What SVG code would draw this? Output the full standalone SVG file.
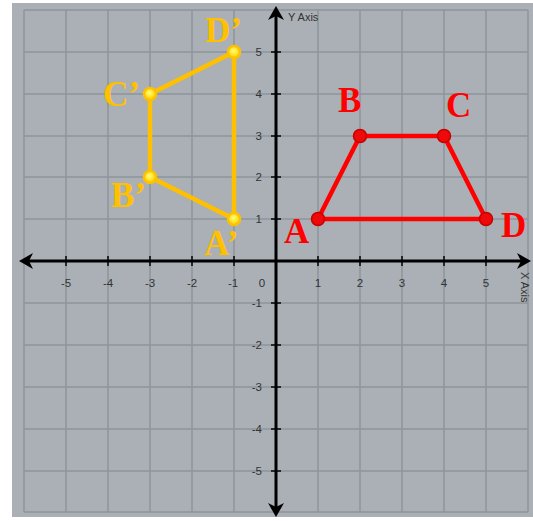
<svg xmlns="http://www.w3.org/2000/svg" width="533" height="521" viewBox="0 0 533 521">
<defs>
<style>
.grid{stroke:#8e959b;stroke-width:1.5;fill:none}
.axis{stroke:#000;stroke-width:3;fill:none}
.tick{stroke:#000;stroke-width:1.5}
.num{font-family:"Liberation Sans","DejaVu Sans",sans-serif;font-size:11.5px;fill:#333}
.ttl{font-family:"Liberation Sans","DejaVu Sans",sans-serif;font-size:11px;fill:#333}
.red{stroke:#ff0000;stroke-width:4.5;fill:none;stroke-linejoin:round}
.yel{stroke:#ffc000;stroke-width:4.5;fill:none;stroke-linejoin:round}
.rpt{fill:#ee0a0a;stroke:#c80000;stroke-width:1.5}
.ypt{fill:url(#yg);stroke:#ffc000;stroke-width:2.5}
.rl{font-family:"Liberation Serif","Times New Roman",serif;font-weight:bold;font-size:35px;fill:#ff0000}
.yl{font-family:"Liberation Serif","Times New Roman",serif;font-weight:bold;font-size:35px;fill:#ffc000}
</style>
<radialGradient id="yg" cx="0.45" cy="0.4" r="0.6">
<stop offset="0" stop-color="#ffff70"/>
<stop offset="1" stop-color="#ffd000"/>
</radialGradient>
</defs>
<rect x="0" y="0" width="533" height="521" fill="#ffffff"/>
<rect x="12" y="3" width="521" height="514" fill="#aab0b5"/>
<g id="grid" class="grid">
<path d="M24 10V512M66 10V512M108 10V512M150 10V512M192 10V512M234 10V512M318 10V512M360 10V512M402 10V512M444 10V512M486 10V512M528 10V512"/>
<path d="M24 10H528M24 52H528M24 94H528M24 136H528M24 177H528M24 219H528M24 303H528M24 345H528M24 387H528M24 429H528M24 471H528M24 512H528"/>
</g>
<g id="axes">
<line class="axis" x1="26" y1="261" x2="522" y2="261"/>
<line class="axis" x1="276" y1="14" x2="276" y2="508"/>
<path d="M19 261L33 253L29 261L33 269Z" fill="#000"/>
<path d="M531 261L517 253L521 261L517 269Z" fill="#000"/>
<path d="M276 6L268 20L276 16L284 20Z" fill="#000"/>
<path d="M276 517L268 503L276 507L284 503Z" fill="#000"/>
<path class="tick" d="M66 256V266M108 256V266M150 256V266M192 256V266M234 256V266M318 256V266M360 256V266M402 256V266M444 256V266M486 256V266"/>
<path class="tick" d="M271 52H281M271 94H281M271 136H281M271 177H281M271 219H281M271 303H281M271 345H281M271 387H281M271 429H281M271 471H281"/>
</g>
<g id="xlabels" class="num" text-anchor="middle">
<text x="66" y="287">-5</text><text x="108" y="287">-4</text><text x="150" y="287">-3</text><text x="192" y="287">-2</text><text x="233" y="287">-1</text><text x="262" y="287">0</text>
<text x="318" y="287">1</text><text x="360" y="287">2</text><text x="402" y="287">3</text><text x="444" y="287">4</text><text x="486" y="287">5</text>
</g>
<g id="ylabels" class="num" text-anchor="end">
<text x="262" y="56">5</text><text x="262" y="98">4</text><text x="262" y="140">3</text><text x="262" y="181">2</text><text x="262" y="223">1</text>
<text x="262" y="307">-1</text><text x="262" y="349">-2</text><text x="262" y="391">-3</text><text x="262" y="433">-4</text><text x="262" y="475">-5</text>
</g>
<text class="ttl" x="288" y="21">Y Axis</text>
<text class="ttl" transform="translate(521,272) rotate(90)">X Axis</text>
<g id="connectors">
<polygon class="red" points="318,219 360,136 444,136 486,219"/>
<polygon class="yel" points="234,219 150,177 150,94 234,52"/>
</g>
<g id="A"><circle class="rpt" cx="318" cy="219" r="6.5"/><text class="rl" x="284" y="243">A</text></g>
<g id="B"><circle class="rpt" cx="360" cy="136" r="6.5"/><text class="rl" x="338" y="112">B</text></g>
<g id="C"><circle class="rpt" cx="444" cy="136" r="6.5"/><text class="rl" x="446" y="117">C</text></g>
<g id="D"><circle class="rpt" cx="486" cy="219" r="6.5"/><text class="rl" x="501" y="237">D</text></g>
<g id="A-prime"><circle class="ypt" cx="234" cy="219" r="6"/><text class="yl" x="204" y="255">A’</text></g>
<g id="B-prime"><circle class="ypt" cx="150" cy="177" r="6"/><text class="yl" x="111" y="207">B’</text></g>
<g id="C-prime"><circle class="ypt" cx="150" cy="94" r="6"/><text class="yl" x="103" y="106">C’</text></g>
<g id="D-prime"><circle class="ypt" cx="234" cy="52" r="6"/><text class="yl" x="205" y="42">D’</text></g>
</svg>
